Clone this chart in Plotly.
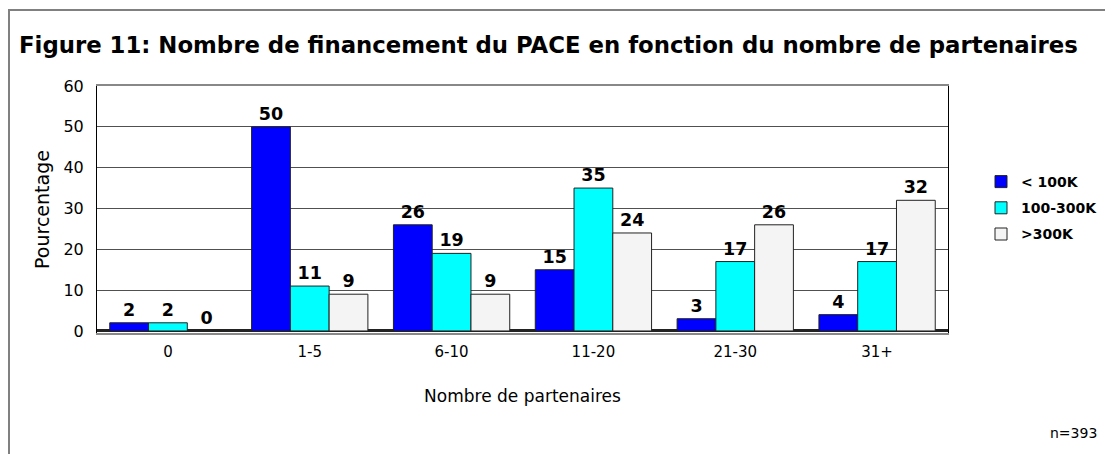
import plotly.graph_objects as go

categories = ["0", "1-5", "6-10", "11-20", "21-30", "31+"]
series_names = ["< 100K", "100-300K", ">300K"]
lt100 = [2, 50, 26, 15, 3, 4]
mid = [2, 11, 19, 35, 17, 17]
gt300 = [0, 9, 9, 24, 26, 32]
colors = ["#0000FF", "#00FFFF", "#F4F4F4"]

OFF = 8  # page body margin
W, H = 1113 - OFF, 454 - OFF
L, R, T, B = 97 - OFF, 948 - OFF, 86 - OFF, 333 - OFF
FONT = "DejaVu Sans, Arial"

fig = go.Figure()
for i, (name, vals, col) in enumerate(zip(series_names, [lt100, mid, gt300], colors)):
    fig.add_trace(go.Bar(
        x=categories, y=vals, name=name, legendgroup=f"g{i}",
        marker=dict(color=col, line=dict(color="#222222", width=1)),
        text=[str(v) for v in vals], textposition="outside",
        textfont=dict(family=FONT, size=17.5, color="black", weight="bold"),
        cliponaxis=False,
    ))


def px(x):
    return (x - OFF - L) / (R - L)


def py(y):
    return (B - (y - OFF)) / (B - T)


fig.update_layout(
    width=W, height=H,
    margin=dict(l=L, r=W - R, t=T, b=H - B, pad=0, autoexpand=False),
    paper_bgcolor="white", plot_bgcolor="white",
    barmode="group", bargap=0.18, bargroupgap=0,
    font=dict(family=FONT, color="black", size=16),
    showlegend=True,
    legend=dict(x=px(981), y=py(166), xanchor="left", yanchor="top",
                font=dict(size=14, weight="bold"), itemwidth=30,
                tracegroupgap=5, bgcolor="rgba(0,0,0,0)"),
    xaxis=dict(showline=True, linecolor="#888888", linewidth=2, mirror=True,
               ticks="", tickfont=dict(size=15), ticklabelstandoff=4,
               title=dict(text="Nombre de partenaires", font=dict(size=17), standoff=30)),
    yaxis=dict(range=[-0.5, 60], tickvals=[0, 10, 20, 30, 40, 50, 60],
               showgrid=True, gridcolor="#505050", gridwidth=1,
               zeroline=True, zerolinecolor="#222222", zerolinewidth=3,
               showline=True, linecolor="#000000", linewidth=1, mirror=True,
               ticks="", tickfont=dict(size=16), ticklabelstandoff=9,
               title=dict(text="Pourcentage", font=dict(size=19), standoff=8)),
    shapes=[dict(type="rect", xref="paper", yref="paper",
                 x0=px(9), x1=px(1130), y0=py(470), y1=py(10),
                 line=dict(color="#808080", width=2), fillcolor="rgba(0,0,0,0)", layer="below")],
    annotations=[
        dict(text="<b>Figure 11: Nombre de financement du PACE en fonction du nombre de partenaires</b>",
             xref="paper", yref="paper", x=px(17), y=py(45), xanchor="left", yanchor="middle",
             showarrow=False, font=dict(size=22.8, family=FONT)),
        dict(text="n=393", xref="paper", yref="paper", x=px(1099), y=py(433),
             xanchor="right", yanchor="middle", showarrow=False, font=dict(size=14)),
    ],
)

fig.write_html("out.html")
